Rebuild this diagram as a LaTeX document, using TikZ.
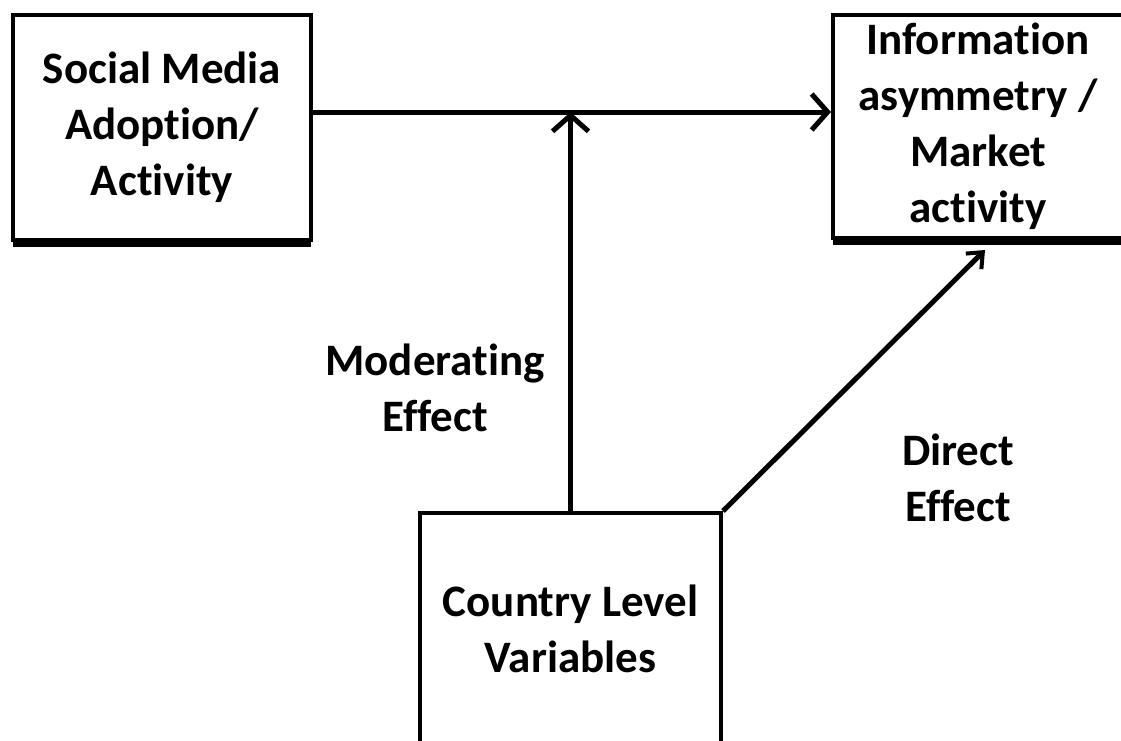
\documentclass[tikz,border=0pt]{standalone}
\usepackage{fontspec}
\setmainfont{Carlito}[RawFeature=-liga]
\usetikzlibrary{arrows.meta,shadows}

\tikzset{
  box/.style={draw=black, line width=4pt, fill=white, inner sep=0pt,
              align=center, font=\fontsize{45}{56}\selectfont\bfseries,
              drop shadow={shadow xshift=0pt, shadow yshift=-7pt, opacity=1, fill=black}},
  lbl/.style={align=center, font=\fontsize{45}{56}\selectfont\bfseries, inner sep=0pt},
  arr/.style={line width=5pt, -{Straight Barb[length=16pt,width=36pt,line width=5pt]}},
  arrsmall/.style={line width=5pt, -{Straight Barb[length=13pt,width=22pt,line width=4pt]}},
}

\begin{document}
\begin{tikzpicture}[x=1pt, y=-1pt]
  \useasboundingbox (0,0) rectangle (1121,740);
  \clip (0,0) rectangle (1121,740);

  % boxes
  \node[box, minimum width=298pt, minimum height=225pt] (sma) at (162,127.5)
    {Social Media\\Adoption/\\Activity};
  \node[box, minimum width=290pt, minimum height=223pt] (info) at (978,126.5)
    {Information\\asymmetry /\\Market\\activity};
  \node[box, minimum width=301pt, minimum height=232pt] (clv) at (570.5,629)
    {Country Level\\Variables};

  % row of the main path
  \coordinate (row) at (0,112);

  % edge labels
  \node[lbl] (mod) at (435,388) {Moderating\\Effect};
  \node[lbl] (dir) at (958,478) {Direct\\Effect};

  % connectors
  \draw[arr] (sma.east |- row) -- (info.west |- row);
  \draw[arr] (clv.north) -- (clv.north |- row);
  \coordinate (dt) at ([xshift=154pt, yshift=-10pt]info.south west);
  \draw[arrsmall] (clv.north east) -- (dt);
\end{tikzpicture}
\end{document}
